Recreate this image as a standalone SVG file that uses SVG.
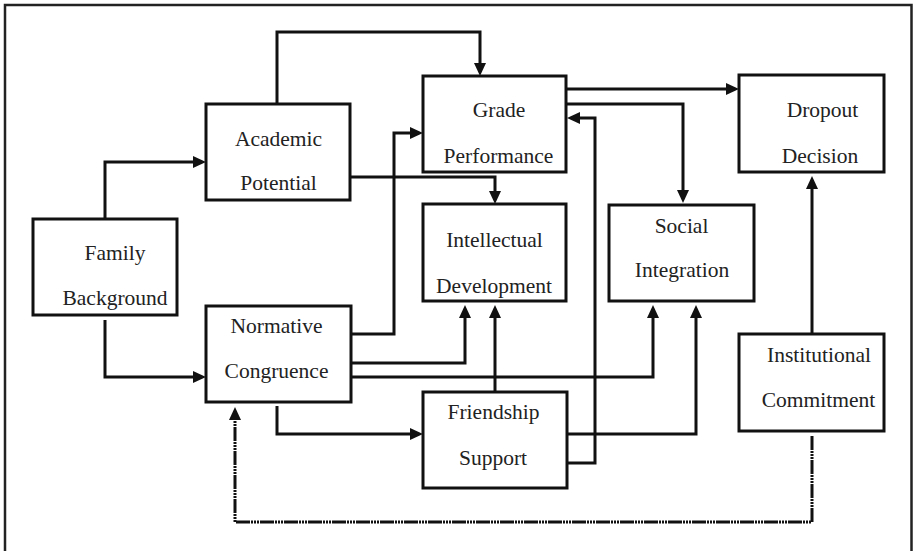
<svg xmlns="http://www.w3.org/2000/svg" width="915" height="551" viewBox="0 0 915 551">
<style>
.box{fill:#fff;stroke:#111;stroke-width:3}
.t{font-family:"Liberation Serif","Times New Roman",serif;font-size:21.5px;fill:#222;text-anchor:middle}
.c{fill:none;stroke:#111;stroke-width:3;stroke-linejoin:miter}
.d{stroke-dasharray:14 1 2 1 2 1 2 1}
</style>
<defs>
<marker id="ah" markerUnits="userSpaceOnUse" viewBox="0 0 13 12" markerWidth="13" markerHeight="12" refX="3" refY="6" orient="auto">
<path d="M0,0 L13,6 L0,12 z" fill="#111"/>
</marker>
</defs>
<rect x="5" y="5" width="906.5" height="600" fill="#fff" stroke="#222" stroke-width="2.5"/>
<g id="connectors">
<path class="c" d="M105,219 V162 H196" marker-end="url(#ah)"/>
<path class="c" d="M105,320 V377 H196" marker-end="url(#ah)"/>
<path class="c" d="M277,104 V32 H480 V66" marker-end="url(#ah)"/>
<path class="c" d="M350,177 H495 V194" marker-end="url(#ah)"/>
<path class="c" d="M351,334 H394 V133 H413" marker-end="url(#ah)"/>
<path class="c" d="M351,363 H465 V315" marker-end="url(#ah)"/>
<path class="c" d="M351,377 H653 V315" marker-end="url(#ah)"/>
<path class="c" d="M277,406 V434 H413" marker-end="url(#ah)"/>
<path class="c" d="M495,392 V315" marker-end="url(#ah)"/>
<path class="c" d="M567,434 H696 V315" marker-end="url(#ah)"/>
<path class="c" d="M567,463 H595 V118 H577" marker-end="url(#ah)"/>
<path class="c" d="M566,89 H729" marker-end="url(#ah)"/>
<path class="c" d="M566,104 H683 V193" marker-end="url(#ah)"/>
<path class="c" d="M812,334 V186" marker-end="url(#ah)"/>
<path class="c d" d="M812,436 V522 H235 V417" marker-end="url(#ah)"/>
</g>
<g id="family">
<rect class="box" x="33" y="219" width="144" height="96"/>
<text class="t" x="115" y="260">Family</text>
<text class="t" x="115" y="305">Background</text>
</g>
<g id="academic">
<rect class="box" x="206" y="104" width="144" height="96"/>
<text class="t" x="278.5" y="145.5">Academic</text>
<text class="t" x="278.5" y="190">Potential</text>
</g>
<g id="normative">
<rect class="box" x="206" y="306" width="145" height="96"/>
<text class="t" x="276.5" y="333">Normative</text>
<text class="t" x="276.5" y="378">Congruence</text>
</g>
<g id="grade">
<rect class="box" x="423" y="76" width="143" height="96"/>
<text class="t" x="499" y="117">Grade</text>
<text class="t" x="498.5" y="163">Performance</text>
</g>
<g id="intellectual">
<rect class="box" x="423" y="204" width="143" height="97"/>
<text class="t" x="494.5" y="247">Intellectual</text>
<text class="t" x="494" y="293">Development</text>
</g>
<g id="friendship">
<rect class="box" x="423" y="392" width="144" height="96"/>
<text class="t" x="493.5" y="419">Friendship</text>
<text class="t" x="493" y="465">Support</text>
</g>
<g id="social">
<rect class="box" x="609" y="205" width="145" height="96"/>
<text class="t" x="681.5" y="233">Social</text>
<text class="t" x="682" y="277">Integration</text>
</g>
<g id="dropout">
<rect class="box" x="739" y="75" width="145" height="97"/>
<text class="t" x="822.5" y="117">Dropout</text>
<text class="t" x="820" y="163">Decision</text>
</g>
<g id="institutional">
<rect class="box" x="739" y="334" width="145" height="97"/>
<text class="t" x="819" y="362">Institutional</text>
<text class="t" x="818.5" y="407">Commitment</text>
</g>
</svg>
